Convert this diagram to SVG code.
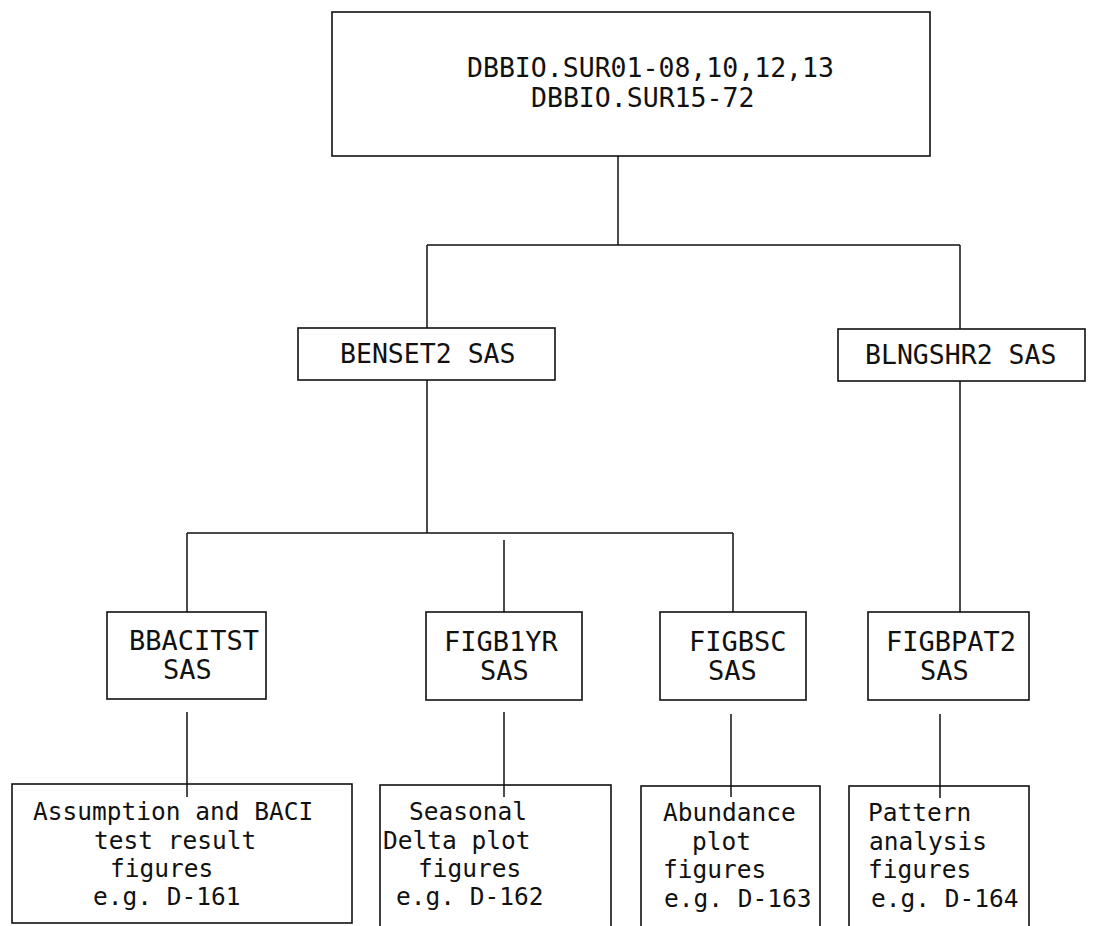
<svg xmlns="http://www.w3.org/2000/svg" width="1096" height="926" viewBox="0 0 1096 926">
<style>
.box{fill:none;stroke:#111;stroke-width:1.6}
.ln{fill:none;stroke:#111;stroke-width:1.5}
text{font-family:"DejaVu Sans Mono","Liberation Mono",monospace;fill:#111}
.t1{font-size:26.5px}
.t3{font-size:27px}
.t4{font-size:24.5px}
</style>
<rect x="0" y="0" width="1096" height="926" fill="#fff"/>
<g id="connectors">
<line class="ln" x1="618" y1="156" x2="618" y2="245"/>
<line class="ln" x1="427" y1="245" x2="960" y2="245"/>
<line class="ln" x1="427" y1="245" x2="427" y2="328"/>
<line class="ln" x1="960" y1="245" x2="960" y2="329"/>
<line class="ln" x1="427" y1="380" x2="427" y2="533"/>
<line class="ln" x1="187" y1="533" x2="733" y2="533"/>
<line class="ln" x1="187" y1="533" x2="187" y2="612"/>
<line class="ln" x1="504" y1="540" x2="504" y2="612"/>
<line class="ln" x1="733" y1="533" x2="733" y2="612"/>
<line class="ln" x1="960" y1="381" x2="960" y2="612"/>
<line class="ln" x1="187" y1="712" x2="187" y2="797"/>
<line class="ln" x1="504" y1="712" x2="504" y2="797"/>
<line class="ln" x1="731" y1="714" x2="731" y2="797"/>
<line class="ln" x1="940" y1="714" x2="940" y2="798"/>
</g>
<g id="n-dbbio">
<rect class="box" x="332" y="12" width="598" height="144"/>
<text class="t1" x="467" y="77">DBBIO.SUR01-08,10,12,13</text>
<text class="t1" x="531" y="107">DBBIO.SUR15-72</text>
</g>
<g id="n-benset2">
<rect class="box" x="298" y="328" width="257" height="52"/>
<text class="t1" x="340" y="363">BENSET2 SAS</text>
</g>
<g id="n-blngshr2">
<rect class="box" x="838" y="329" width="247" height="52"/>
<text class="t1" x="865" y="364">BLNGSHR2 SAS</text>
</g>
<g id="n-bbacitst">
<rect class="box" x="107" y="612" width="159" height="87"/>
<text class="t3" x="129" y="650">BBACITST</text>
<text class="t3" x="163" y="679">SAS</text>
</g>
<g id="n-figb1yr">
<rect class="box" x="426" y="612" width="156" height="88"/>
<text class="t3" x="444" y="651">FIGB1YR</text>
<text class="t3" x="480" y="680">SAS</text>
</g>
<g id="n-figbsc">
<rect class="box" x="660" y="612" width="146" height="88"/>
<text class="t3" x="689" y="651">FIGBSC</text>
<text class="t3" x="708" y="680">SAS</text>
</g>
<g id="n-figbpat2">
<rect class="box" x="868" y="612" width="161" height="88"/>
<text class="t3" x="886" y="651">FIGBPAT2</text>
<text class="t3" x="920" y="680">SAS</text>
</g>
<g id="n-out1">
<rect class="box" x="12" y="784" width="340" height="139"/>
<text class="t4" x="33" y="820">Assumption and BACI</text>
<text class="t4" x="94" y="849">test result</text>
<text class="t4" x="110" y="877">figures</text>
<text class="t4" x="93" y="905">e.g. D-161</text>
</g>
<g id="n-out2">
<rect class="box" x="380" y="785" width="231" height="142"/>
<text class="t4" x="409" y="820">Seasonal</text>
<text class="t4" x="383" y="849">Delta plot</text>
<text class="t4" x="418" y="877">figures</text>
<text class="t4" x="396" y="905">e.g. D-162</text>
</g>
<g id="n-out3">
<rect class="box" x="641" y="786" width="179" height="144"/>
<text class="t4" x="663" y="821">Abundance</text>
<text class="t4" x="692" y="850">plot</text>
<text class="t4" x="663" y="878">figures</text>
<text class="t4" x="664" y="907">e.g. D-163</text>
</g>
<g id="n-out4">
<rect class="box" x="849" y="786" width="180" height="144"/>
<text class="t4" x="868" y="821">Pattern</text>
<text class="t4" x="869" y="850">analysis</text>
<text class="t4" x="868" y="878">figures</text>
<text class="t4" x="871" y="907">e.g. D-164</text>
</g>
</svg>
